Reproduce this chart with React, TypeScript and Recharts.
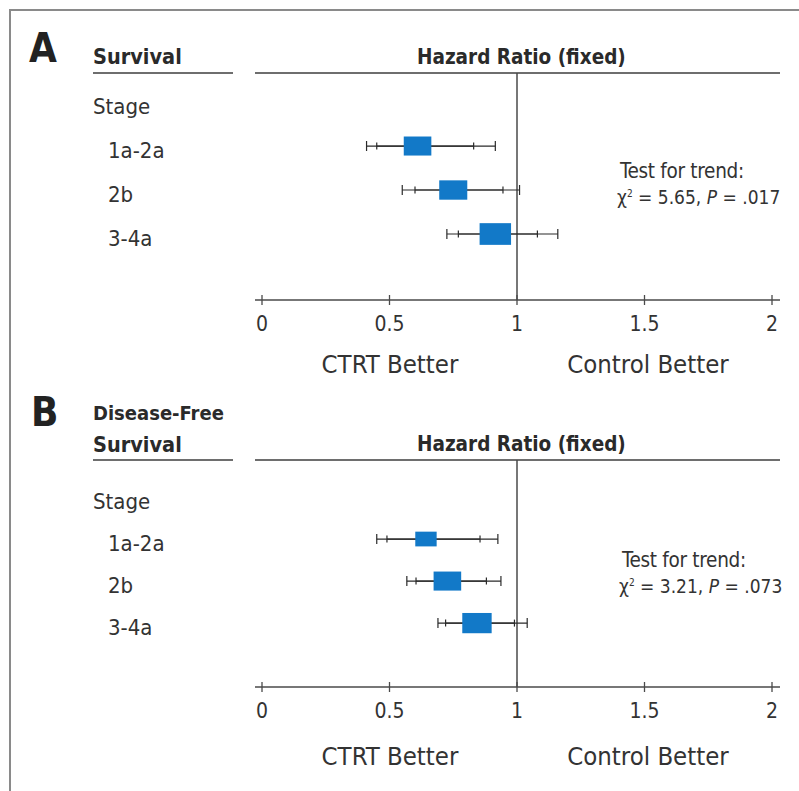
import React from "react";
import { ComposedChart, Scatter, XAxis, YAxis, ErrorBar, ReferenceLine } from "recharts";

// ---------- data ----------
const stageLabels = ["Stage", "1a-2a", "2b", "3-4a"];
const stageRows = [1, 2, 3];
const xTicks = [0, 0.5, 1, 1.5, 2];
const xTickLabels = ["0", "0.5", "1", "1.5", "2"];

// Panel A: Survival
const osHR = [0.61, 0.75, 0.915];
const osInnerLo = [0.45, 0.6, 0.77];
const osInnerHi = [0.83, 0.945, 1.08];
const osOuterLo = [0.41, 0.55, 0.725];
const osOuterHi = [0.915, 1.01, 1.16];
const osWeight = [30, 31, 39];
const osTrend = { chi2: "5.65", p: ".017" };

// Panel B: Disease-Free Survival
const dfsHR = [0.643, 0.727, 0.843];
const dfsInnerLo = [0.49, 0.604, 0.72];
const dfsInnerHi = [0.855, 0.88, 0.99];
const dfsOuterLo = [0.45, 0.568, 0.69];
const dfsOuterHi = [0.925, 0.937, 1.04];
const dfsWeight = [18, 30, 34];
const dfsTrend = { chi2: "3.21", p: ".073" };

// ---------- styles ----------
const FONT = "'Liberation Sans Narrow', 'DejaVu Sans Condensed', 'Liberation Sans', Arial, sans-serif";
const BLUE = "#1279c8";
const INK = "#333333";
const AXIS = "#4a4a4a";
const RULE = "#6e6e6e";
const X_MIN = -7 / 255;
const X_MAX = 2 + 8 / 255;

function build(hr: number[], iLo: number[], iHi: number[], oLo: number[], oHi: number[], w: number[]) {
  return stageRows.map((row, i) => ({
    row,
    hr: hr[i],
    inner: [hr[i] - iLo[i], iHi[i] - hr[i]],
    outer: [hr[i] - oLo[i], oHi[i] - hr[i]],
    weight: w[i],
  }));
}

const osData = build(osHR, osInnerLo, osInnerHi, osOuterLo, osOuterHi, osWeight);
const dfsData = build(dfsHR, dfsInnerLo, dfsInnerHi, dfsOuterLo, dfsOuterHi, dfsWeight);

const WeightBox = (props: any) => {
  const { cx, cy, payload } = props;
  if (cx == null || cy == null) return null;
  const area = payload.weight * 17.5;
  const w = Math.sqrt(area * 1.45);
  const h = area / w;
  return <rect x={cx - w / 2} y={cy - h / 2} width={w} height={h} fill={BLUE} />;
};

const XTick = (props: any) => {
  const { x, y, payload } = props;
  const idx = xTicks.indexOf(payload.value);
  return (
    <g>
      <line x1={x} x2={x} y1={y - 5} y2={y + 5} stroke={AXIS} strokeWidth={1.3} />
      <text x={x} y={y + 31} textAnchor="middle" fontFamily={FONT} fontSize={21} fill={INK}>
        {xTickLabels[idx] ?? String(payload.value)}
      </text>
    </g>
  );
};

const YTick = (props: any) => {
  const { y, payload } = props;
  const v = payload.value as number;
  const label = stageLabels[v];
  const lx = v === 0 ? 93 : 108;
  return (
    <text x={lx} y={y} dy={12} textAnchor="start" fontFamily={FONT} fontSize={22} fill={INK}>
      {label}
    </text>
  );
};

function Panel(props: { top: number; height: number; marginTop: number; xAxisHeight: number; domain: [number, number]; data: any[] }) {
  const { top, height, marginTop, xAxisHeight, domain, data } = props;
  return (
    <div style={{ position: "absolute", left: 0, top, width: 799, height }}>
      <ComposedChart width={799} height={height} data={data} margin={{ top: marginTop, right: 19, bottom: 0, left: 0 }}>
        <XAxis
          type="number"
          dataKey="hr"
          domain={[X_MIN, X_MAX]}
          allowDataOverflow
          ticks={xTicks}
          interval={0}
          height={xAxisHeight}
          tickSize={0}
          tickMargin={0}
          axisLine={{ stroke: AXIS, strokeWidth: 1.3 }}
          tickLine={false}
          tick={<XTick />}
        />
        <YAxis
          type="number"
          dataKey="row"
          domain={domain}
          reversed
          allowDataOverflow
          ticks={[0, 1, 2, 3]}
          interval={0}
          width={255}
          axisLine={false}
          tickLine={false}
          tick={<YTick />}
        />
        <ReferenceLine y={domain[0]} stroke={RULE} strokeWidth={2} ifOverflow="visible" />
        <ReferenceLine x={1} stroke={AXIS} strokeWidth={1.5} ifOverflow="visible" />
        <Scatter data={data} shape={WeightBox} isAnimationActive={false}>
          <ErrorBar dataKey="outer" direction="x" width={5} stroke="#2a2a2a" strokeWidth={1.2} isAnimationActive={false} />
          <ErrorBar dataKey="inner" direction="x" width={3.5} stroke="#2a2a2a" strokeWidth={1.2} isAnimationActive={false} />
        </Scatter>
      </ComposedChart>
    </div>
  );
}

const abs = (left: number, top: number, extra: React.CSSProperties = {}): React.CSSProperties => ({
  position: "absolute",
  left,
  top,
  whiteSpace: "nowrap",
  lineHeight: 1,
  ...extra,
});

function Trend(props: { left: number; top: number; t: { chi2: string; p: string } }) {
  const { left, top, t } = props;
  return (
    <>
      <div style={abs(left + 3, top, { fontSize: 20.5, color: INK, letterSpacing: -0.3 })}>Test for trend:</div>
      <div style={abs(left, top + 27, { fontSize: 19, color: INK })}>
        χ<sup style={{ fontSize: 10 }}>2</sup> = {t.chi2}, <i>P</i> = {t.p}
      </div>
    </>
  );
}

export default function App() {
  return (
    <div style={{ position: "absolute", left: 0, top: 0, width: 799, height: 791, background: "#fff", fontFamily: FONT, overflow: "hidden" }}>
      {/* frame */}
      <div style={{ position: "absolute", left: 9, top: 9, width: 790, height: 0, borderTop: "2px solid #8a8a8a" }} />
      <div style={{ position: "absolute", left: 9, top: 9, width: 0, height: 782, borderLeft: "2px solid #8a8a8a" }} />

      {/* Panel A */}
      <Panel top={0} height={390} marginTop={73} xAxisHeight={90} domain={[-0.66, 4.5]} data={osData} />
      <div style={abs(29, 28, { fontSize: 40, fontWeight: 700, color: "#222" })}>A</div>
      <div style={abs(93, 46, { fontSize: 21.5, fontWeight: 700, color: "#2a2a2a" })}>Survival</div>
      <div style={{ position: "absolute", left: 93, top: 72, width: 140, height: 0, borderTop: `2px solid ${RULE}` }} />
      <div style={abs(417, 47, { width: 200, textAlign: "center", fontSize: 20.5, fontWeight: 700, color: "#2a2a2a" })}>Hazard Ratio (fixed)</div>
      <Trend left={617} top={161} t={osTrend} />
      <div style={abs(290, 352, { width: 200, textAlign: "center", fontSize: 25.5, color: INK })}>CTRT Better</div>
      <div style={abs(548, 352, { width: 200, textAlign: "center", fontSize: 25.5, color: INK })}>Control Better</div>

      {/* Panel B */}
      <Panel top={390} height={401} marginTop={70} xAxisHeight={104} domain={[-0.88, 4.52]} data={dfsData} />
      <div style={abs(31, 392, { fontSize: 40, fontWeight: 700, color: "#222" })}>B</div>
      <div style={abs(93, 403, { fontSize: 20, fontWeight: 700, color: "#2a2a2a" })}>Disease-Free</div>
      <div style={abs(93, 434, { fontSize: 21.5, fontWeight: 700, color: "#2a2a2a" })}>Survival</div>
      <div style={{ position: "absolute", left: 93, top: 459, width: 140, height: 0, borderTop: `2px solid ${RULE}` }} />
      <div style={abs(417, 434, { width: 200, textAlign: "center", fontSize: 20.5, fontWeight: 700, color: "#2a2a2a" })}>Hazard Ratio (fixed)</div>
      <Trend left={619} top={550} t={dfsTrend} />
      <div style={abs(290, 744, { width: 200, textAlign: "center", fontSize: 25.5, color: INK })}>CTRT Better</div>
      <div style={abs(548, 744, { width: 200, textAlign: "center", fontSize: 25.5, color: INK })}>Control Better</div>
    </div>
  );
}
